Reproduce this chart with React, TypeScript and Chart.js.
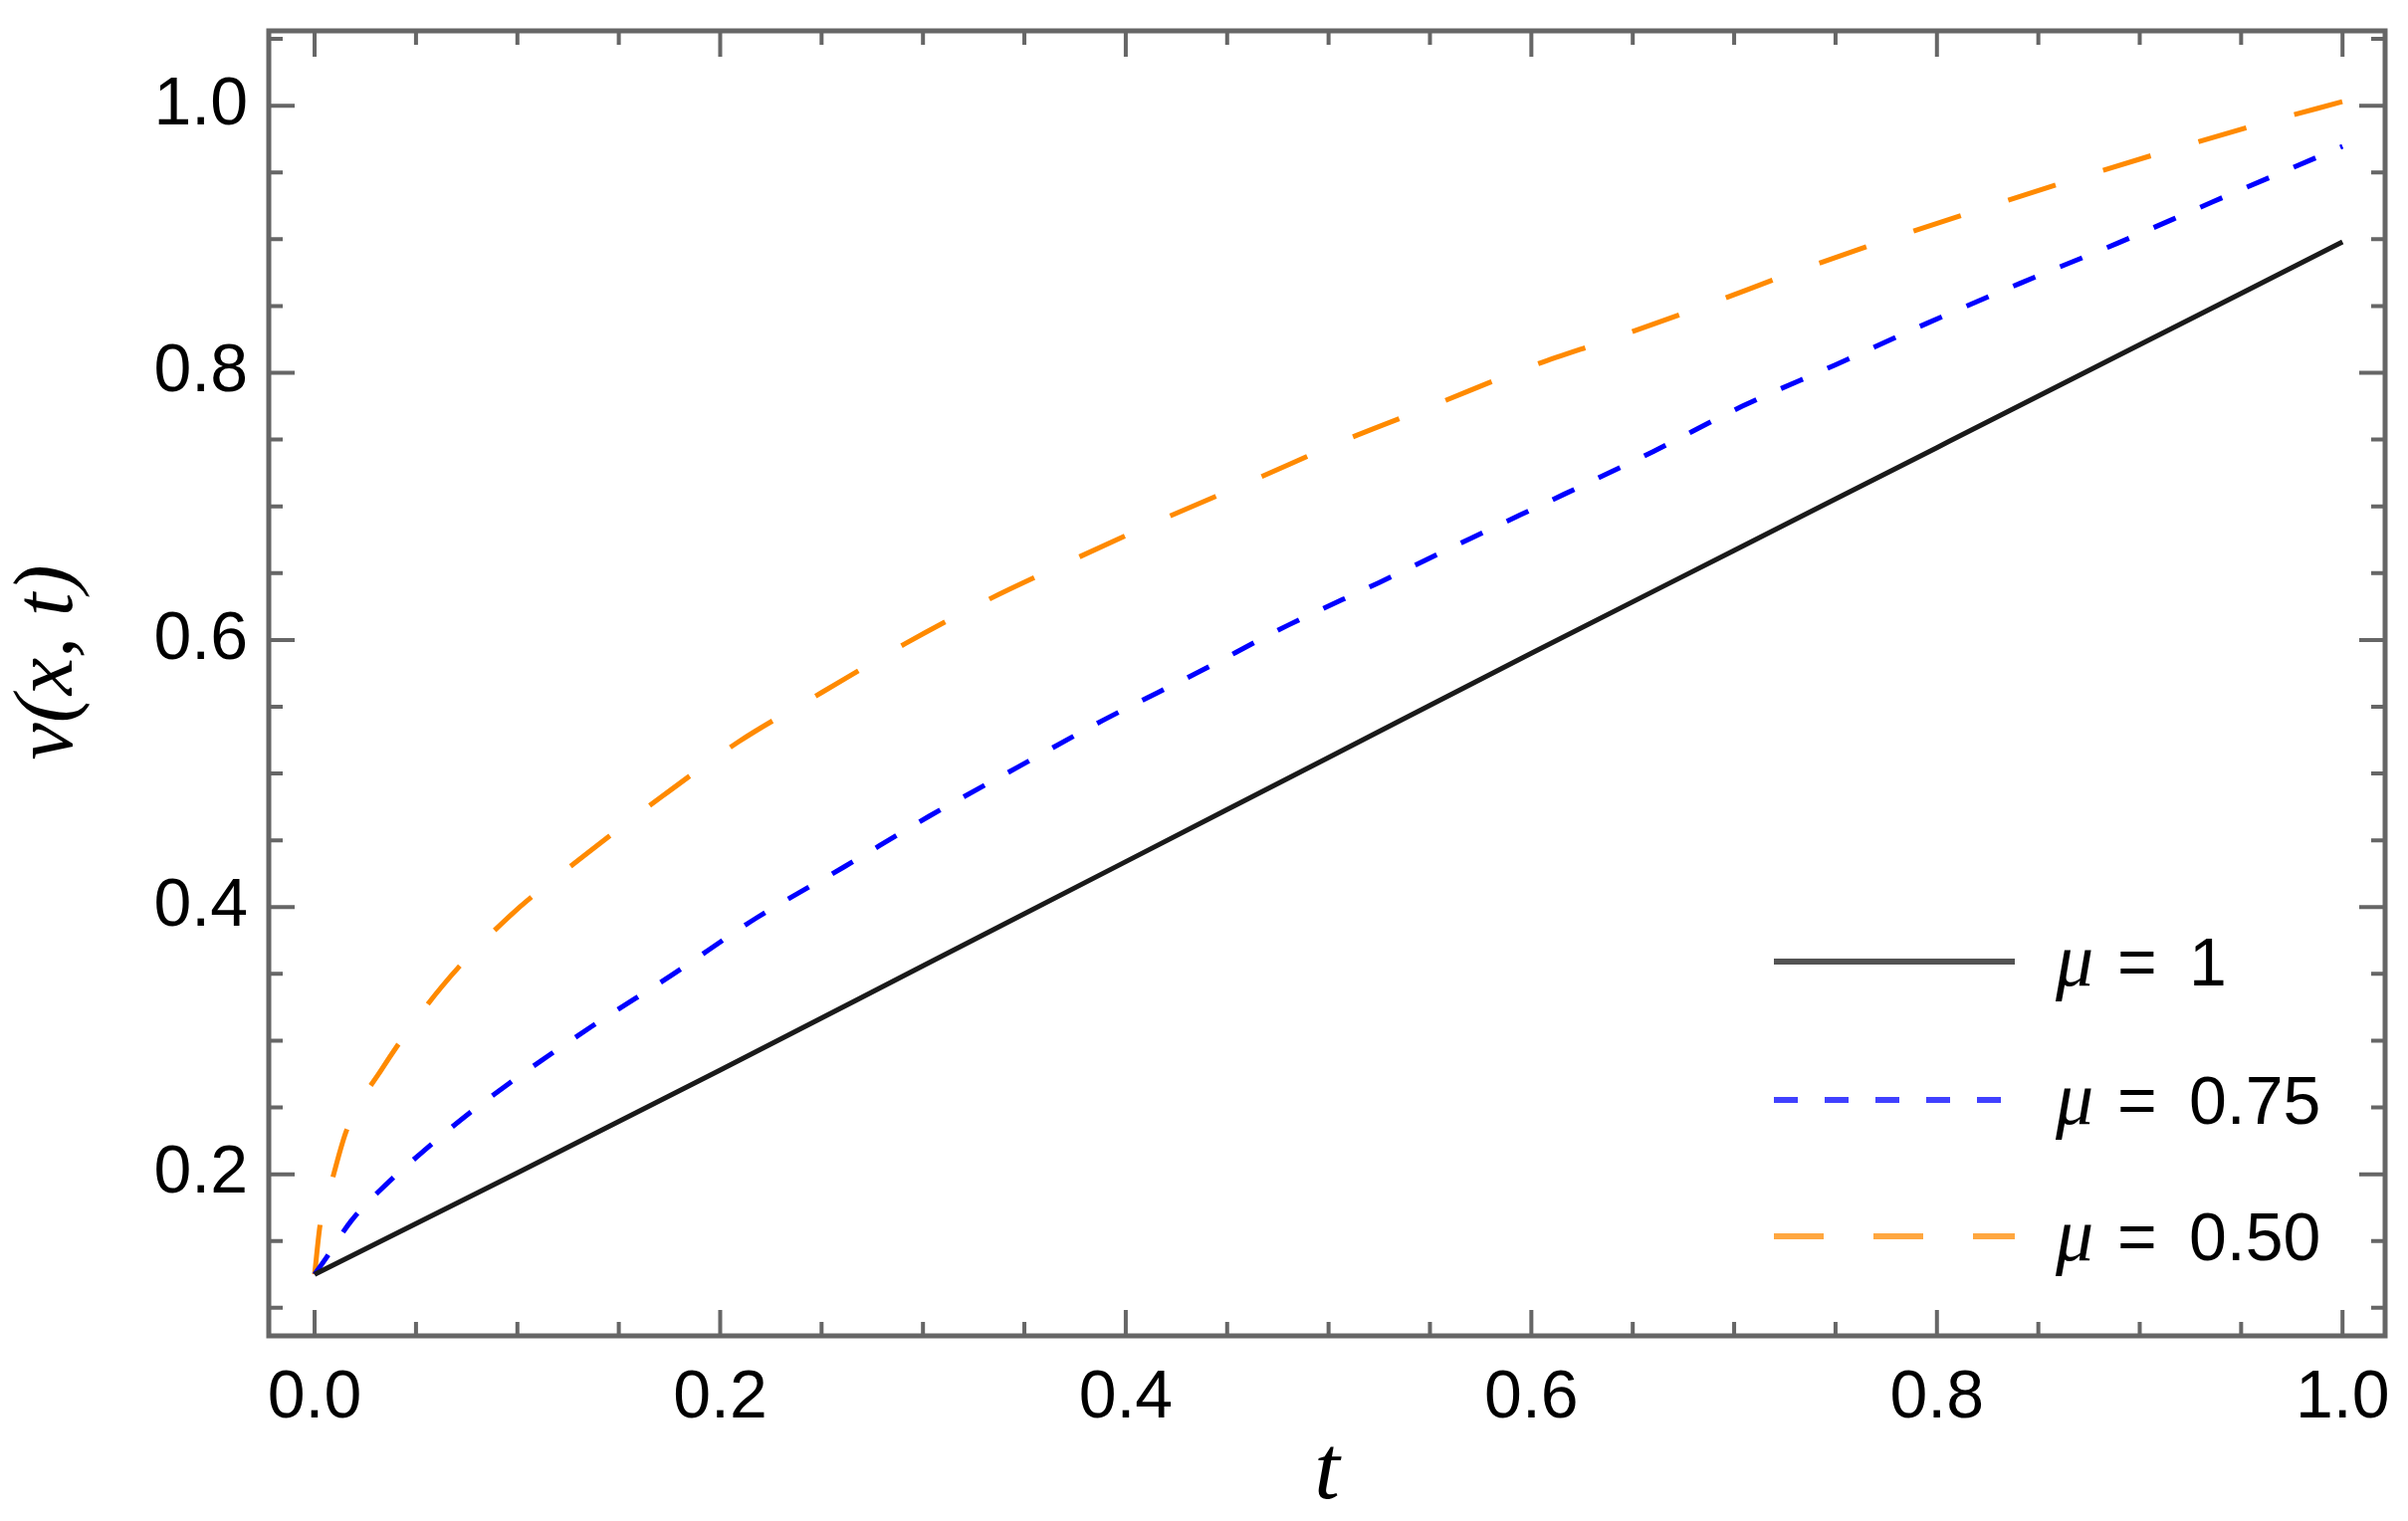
import React, { useRef, useEffect } from "react";
import { Chart, registerables } from "chart.js";

Chart.register(...registerables);

// values
const blackT = [0, 0.05, 0.1, 0.2, 0.3, 0.4, 0.5, 0.6, 0.7, 0.8, 0.9, 1.0];
const blackV = [0.125, 0.163, 0.201, 0.278, 0.356, 0.434, 0.512, 0.59, 0.667, 0.744, 0.821, 0.898];

const blueT = [
  0, 0.006, 0.018, 0.035, 0.055, 0.074, 0.095, 0.136, 0.177, 0.218, 0.261, 0.303, 0.347, 0.389,
  0.436, 0.48, 0.525, 0.57, 0.616, 0.66, 0.704, 0.75, 0.795, 0.841, 0.889, 0.936, 1.0,
];
const blueV = [
  0.125, 0.138, 0.165, 0.192, 0.219, 0.243, 0.267, 0.31, 0.35, 0.392, 0.43, 0.468, 0.505, 0.54,
  0.576, 0.611, 0.643, 0.676, 0.709, 0.741, 0.775, 0.806, 0.837, 0.867, 0.897, 0.928, 0.9695,
];

const orangeT = [
  0, 0.0028, 0.0085, 0.0158, 0.0333, 0.0625, 0.0967, 0.1325, 0.171, 0.209, 0.25, 0.291, 0.332,
  0.374, 0.419, 0.4636, 0.5071, 0.5531, 0.5966, 0.6426, 0.6864, 0.7307, 0.7757, 0.8216, 0.8675,
  0.9154, 0.961, 1.0,
];
const orangeV = [
  0.125, 0.163, 0.195, 0.233, 0.279, 0.34, 0.394, 0.438, 0.4825, 0.5237, 0.5606, 0.597, 0.63,
  0.66, 0.691, 0.72, 0.749, 0.7765, 0.803, 0.827, 0.8508, 0.876, 0.8997, 0.9225, 0.9448, 0.967,
  0.987, 1.003,
];

const seriesLabels = ["1", "0.75", "0.50"];

const xMajor = [0, 0.2, 0.4, 0.6, 0.8, 1.0];
const xMinor = [0.05, 0.1, 0.15, 0.25, 0.3, 0.35, 0.45, 0.5, 0.55, 0.65, 0.7, 0.75, 0.85, 0.9, 0.95];
const yMajor = [0.2, 0.4, 0.6, 0.8, 1.0];
const yMinor = [0.1, 0.15, 0.25, 0.3, 0.35, 0.45, 0.5, 0.55, 0.65, 0.7, 0.75, 0.85, 0.9, 0.95, 1.05];

const FRAME = "#666666";
const SANS = "Liberation Sans";
const SERIF = "Liberation Serif";

const toPoints = (ts: number[], vs: number[]) => ts.map((t, i) => ({ x: t, y: vs[i] }));

const noPadding = (s: any) => {
  s.paddingTop = 0;
  s.paddingBottom = 0;
  s.paddingLeft = 0;
  s.paddingRight = 0;
};

const framePlugin = {
  id: "mmaFrame",
  afterDatasetsDraw(chart: any) {
    const { ctx, chartArea: a, scales } = chart;
    const sx = scales.x;
    const sy = scales.y;
    ctx.save();
    ctx.strokeStyle = FRAME;
    ctx.lineWidth = 4;
    ctx.lineCap = "butt";

    ctx.beginPath();
    const xTick = (v: number, len: number) => {
      const p = sx.getPixelForValue(v);
      ctx.moveTo(p, a.bottom);
      ctx.lineTo(p, a.bottom - len);
      ctx.moveTo(p, a.top);
      ctx.lineTo(p, a.top + len);
    };
    const yTick = (v: number, len: number) => {
      const p = sy.getPixelForValue(v);
      ctx.moveTo(a.left, p);
      ctx.lineTo(a.left + len, p);
      ctx.moveTo(a.right, p);
      ctx.lineTo(a.right - len, p);
    };
    xMajor.forEach((v) => xTick(v, 26));
    xMinor.forEach((v) => xTick(v, 14));
    yMajor.forEach((v) => yTick(v, 26));
    yMinor.forEach((v) => yTick(v, 14));
    ctx.stroke();

    ctx.lineWidth = 5;
    ctx.strokeRect(a.left, a.top, a.right - a.left, a.bottom - a.top);

    // legend, placed inside the frame at lower right
    const x0 = 1782;
    const x1 = 2024;
    const textX = 2065;
    const rows = [966, 1105, 1242];
    chart.data.datasets.forEach((ds: any, i: number) => {
      const yRow = rows[i];
      ctx.save();
      ctx.globalAlpha = 0.75;
      ctx.strokeStyle = ds.borderColor;
      ctx.lineWidth = ds.borderWidth + 1;
      ctx.setLineDash(ds.borderDash || []);
      ctx.beginPath();
      ctx.moveTo(x0, yRow);
      ctx.lineTo(x1, yRow);
      ctx.stroke();
      ctx.restore();

      ctx.fillStyle = "#000";
      ctx.textBaseline = "alphabetic";
      ctx.textAlign = "left";
      ctx.font = `italic 76px "${SERIF}"`;
      ctx.fillText("\u03bc", textX, yRow + 24);
      ctx.font = `68px "${SANS}"`;
      ctx.fillText("=", textX + 62, yRow + 24);
      ctx.fillText(seriesLabels[i], textX + 134, yRow + 24);
    });
    ctx.restore();
  },
};

const App: React.FC = () => {
  const canvasRef = useRef<HTMLCanvasElement | null>(null);
  const chartRef = useRef<Chart | null>(null);

  useEffect(() => {
    if (!canvasRef.current) return;

    chartRef.current = new Chart(canvasRef.current, {
      type: "line",
      data: {
        datasets: [
          {
            label: "\u03bc = " + seriesLabels[0],
            data: toPoints(blackT, blackV),
            borderColor: "#1a1a1a",
            borderWidth: 5,
            pointRadius: 0,
            cubicInterpolationMode: "monotone",
          },
          {
            label: "\u03bc = " + seriesLabels[1],
            data: toPoints(blueT, blueV),
            borderColor: "#0000ff",
            borderWidth: 5,
            borderDash: [24, 27],
            pointRadius: 0,
            cubicInterpolationMode: "monotone",
          },
          {
            label: "\u03bc = " + seriesLabels[2],
            data: toPoints(orangeT, orangeV),
            borderColor: "#ff8a00",
            borderWidth: 5,
            borderDash: [50, 50],
            pointRadius: 0,
            cubicInterpolationMode: "monotone",
          },
        ],
      },
      options: {
        animation: false,
        responsive: true,
        maintainAspectRatio: false,
        layout: { padding: { top: 31, right: 23, left: 0, bottom: 0 } },
        plugins: { legend: { display: false }, tooltip: { enabled: false } },
        scales: {
          x: {
            type: "linear",
            min: -0.0226,
            max: 1.021,
            afterBuildTicks: (s: any) => {
              s.ticks = xMajor.map((v) => ({ value: v }));
            },
            afterFit: (s: any) => {
              s.height = 186;
              noPadding(s);
            },
            grid: { display: false, drawTicks: false },
            border: { display: false },
            ticks: {
              padding: 22,
              autoSkip: false,
              maxRotation: 0,
              color: "#000",
              font: { family: SANS, size: 68 },
              callback: (v: any) => Number(v).toFixed(1),
            },
            title: {
              display: true,
              text: "t",
              color: "#000",
              font: { family: SERIF, size: 92, style: "italic", lineHeight: 1 },
              padding: { top: 0, bottom: 1 },
            },
          },
          y: {
            type: "linear",
            min: 0.079,
            max: 1.056,
            afterBuildTicks: (s: any) => {
              s.ticks = yMajor.map((v) => ({ value: v }));
            },
            afterFit: (s: any) => {
              s.width = 270;
              noPadding(s);
            },
            grid: { display: false, drawTicks: false },
            border: { display: false },
            ticks: {
              padding: 21,
              autoSkip: false,
              color: "#000",
              font: { family: SANS, size: 68 },
              callback: (v: any) => Number(v).toFixed(1),
            },
            title: {
              display: true,
              text: "\u2002v(x, t)",
              color: "#000",
              font: { family: SERIF, size: 84, style: "italic", lineHeight: 1 },
              padding: { top: 8, bottom: 0 },
            },
          },
        },
      },
      plugins: [framePlugin],
    });

    return () => chartRef.current?.destroy();
  }, []);

  return (
    <div style={{ position: "fixed", left: 0, top: 0, width: 2419, height: 1528, background: "#fff" }}>
      <canvas ref={canvasRef} />
    </div>
  );
};

export default App;
